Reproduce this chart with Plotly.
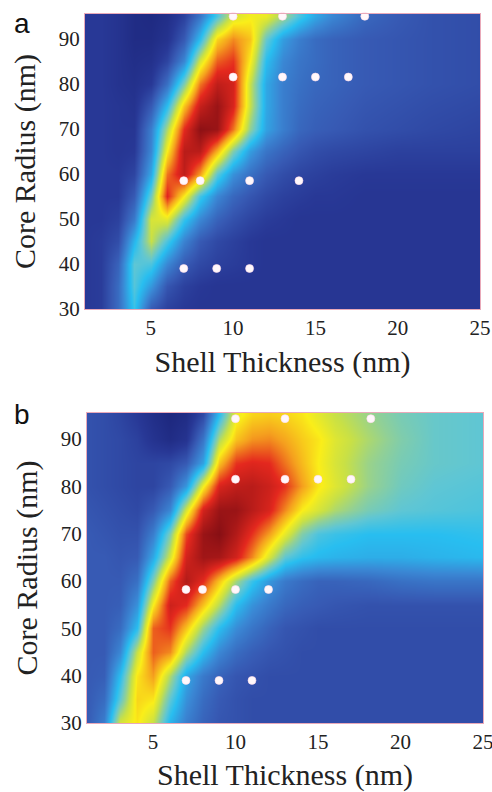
import plotly.graph_objects as go

# Grid: shell thickness (nm) columns, core radius (nm) rows
shell_x = [1, 2, 3, 4, 5, 6, 7, 8, 9, 10, 11, 12, 13, 14, 15, 16, 18, 20, 22, 25]
core_y = [30, 35, 40, 45, 50, 55, 60, 65, 70, 75, 80, 85, 90, 95]

# Panel a: normalised intensity, rows follow core_y
z_a = [
    [0.12, 0.13, 0.24, 0.42, 0.20, 0.14, 0.12, 0.11, 0.11, 0.11, 0.11, 0.11, 0.11, 0.11, 0.11, 0.11, 0.11, 0.11, 0.11, 0.11],
    [0.12, 0.13, 0.24, 0.45, 0.33, 0.19, 0.14, 0.12, 0.11, 0.11, 0.11, 0.11, 0.11, 0.11, 0.11, 0.11, 0.11, 0.11, 0.11, 0.11],
    [0.12, 0.13, 0.22, 0.46, 0.44, 0.30, 0.20, 0.16, 0.14, 0.13, 0.12, 0.11, 0.11, 0.11, 0.11, 0.11, 0.11, 0.11, 0.11, 0.11],
    [0.12, 0.13, 0.17, 0.38, 0.58, 0.44, 0.29, 0.20, 0.16, 0.14, 0.12, 0.11, 0.11, 0.11, 0.11, 0.11, 0.11, 0.11, 0.11, 0.11],
    [0.12, 0.12, 0.14, 0.27, 0.60, 0.62, 0.42, 0.30, 0.22, 0.18, 0.15, 0.13, 0.12, 0.11, 0.11, 0.11, 0.11, 0.11, 0.11, 0.11],
    [0.12, 0.12, 0.12, 0.20, 0.48, 0.86, 0.65, 0.43, 0.30, 0.23, 0.19, 0.16, 0.14, 0.13, 0.12, 0.12, 0.11, 0.11, 0.11, 0.11],
    [0.12, 0.12, 0.12, 0.15, 0.36, 0.78, 0.91, 0.74, 0.46, 0.32, 0.25, 0.20, 0.17, 0.15, 0.14, 0.13, 0.12, 0.12, 0.12, 0.12],
    [0.12, 0.12, 0.11, 0.12, 0.30, 0.65, 0.92, 0.92, 0.72, 0.50, 0.34, 0.26, 0.22, 0.19, 0.17, 0.16, 0.15, 0.14, 0.14, 0.14],
    [0.12, 0.12, 0.11, 0.11, 0.28, 0.55, 0.85, 0.99, 0.97, 0.78, 0.52, 0.35, 0.28, 0.23, 0.21, 0.20, 0.18, 0.17, 0.16, 0.15],
    [0.12, 0.12, 0.11, 0.10, 0.20, 0.40, 0.70, 0.90, 0.97, 0.87, 0.58, 0.36, 0.28, 0.24, 0.22, 0.21, 0.19, 0.18, 0.17, 0.16],
    [0.12, 0.12, 0.10, 0.09, 0.12, 0.25, 0.50, 0.78, 0.91, 0.88, 0.58, 0.36, 0.28, 0.25, 0.23, 0.22, 0.20, 0.19, 0.18, 0.17],
    [0.12, 0.12, 0.10, 0.08, 0.09, 0.15, 0.30, 0.60, 0.80, 0.84, 0.65, 0.40, 0.30, 0.26, 0.24, 0.22, 0.20, 0.19, 0.18, 0.17],
    [0.12, 0.12, 0.10, 0.07, 0.07, 0.10, 0.20, 0.40, 0.68, 0.76, 0.70, 0.47, 0.34, 0.28, 0.24, 0.22, 0.20, 0.19, 0.18, 0.17],
    [0.12, 0.12, 0.10, 0.07, 0.06, 0.08, 0.14, 0.26, 0.44, 0.60, 0.64, 0.63, 0.54, 0.44, 0.36, 0.30, 0.23, 0.20, 0.18, 0.17],
]

# Panel b
z_b = [
    [0.20, 0.28, 0.60, 0.66, 0.58, 0.38, 0.28, 0.22, 0.19, 0.18, 0.17, 0.17, 0.17, 0.17, 0.17, 0.17, 0.17, 0.17, 0.17, 0.17],
    [0.20, 0.24, 0.46, 0.68, 0.66, 0.46, 0.32, 0.24, 0.20, 0.18, 0.17, 0.17, 0.17, 0.17, 0.17, 0.17, 0.17, 0.17, 0.17, 0.17],
    [0.20, 0.21, 0.40, 0.66, 0.74, 0.55, 0.36, 0.27, 0.22, 0.19, 0.18, 0.17, 0.17, 0.17, 0.17, 0.17, 0.17, 0.17, 0.17, 0.17],
    [0.20, 0.20, 0.30, 0.58, 0.80, 0.76, 0.55, 0.40, 0.30, 0.24, 0.21, 0.19, 0.18, 0.17, 0.17, 0.17, 0.17, 0.17, 0.17, 0.17],
    [0.20, 0.20, 0.24, 0.40, 0.80, 0.84, 0.70, 0.53, 0.40, 0.31, 0.26, 0.22, 0.19, 0.18, 0.17, 0.17, 0.17, 0.17, 0.17, 0.17],
    [0.20, 0.20, 0.21, 0.32, 0.65, 0.89, 0.85, 0.70, 0.56, 0.40, 0.32, 0.27, 0.23, 0.21, 0.20, 0.19, 0.18, 0.18, 0.18, 0.18],
    [0.20, 0.20, 0.20, 0.25, 0.50, 0.80, 0.93, 0.85, 0.70, 0.54, 0.42, 0.33, 0.27, 0.24, 0.22, 0.22, 0.23, 0.25, 0.26, 0.26],
    [0.20, 0.20, 0.19, 0.20, 0.36, 0.60, 0.88, 0.96, 0.95, 0.88, 0.76, 0.60, 0.46, 0.41, 0.39, 0.38, 0.37, 0.37, 0.38, 0.39],
    [0.20, 0.19, 0.18, 0.18, 0.28, 0.50, 0.82, 0.97, 1.00, 0.93, 0.84, 0.74, 0.62, 0.50, 0.44, 0.42, 0.40, 0.40, 0.40, 0.41],
    [0.19, 0.18, 0.17, 0.16, 0.20, 0.30, 0.60, 0.88, 0.97, 0.97, 0.92, 0.87, 0.76, 0.65, 0.60, 0.55, 0.49, 0.46, 0.45, 0.44],
    [0.18, 0.17, 0.16, 0.15, 0.15, 0.20, 0.33, 0.64, 0.87, 0.91, 0.92, 0.89, 0.84, 0.74, 0.66, 0.61, 0.53, 0.48, 0.46, 0.45],
    [0.18, 0.17, 0.16, 0.15, 0.15, 0.16, 0.20, 0.35, 0.70, 0.84, 0.86, 0.85, 0.78, 0.71, 0.65, 0.60, 0.53, 0.49, 0.47, 0.46],
    [0.18, 0.17, 0.16, 0.14, 0.10, 0.07, 0.10, 0.26, 0.55, 0.70, 0.75, 0.76, 0.73, 0.69, 0.66, 0.61, 0.55, 0.50, 0.47, 0.46],
    [0.18, 0.17, 0.15, 0.12, 0.08, 0.05, 0.07, 0.16, 0.40, 0.63, 0.68, 0.69, 0.68, 0.66, 0.62, 0.58, 0.53, 0.49, 0.47, 0.46],
]

# Sample points (white dots)
dots_a_x = [10, 13, 18, 10, 13, 15, 17, 7, 8, 11, 14, 7, 9, 11]
dots_a_y = [95, 95, 95, 81.5, 81.5, 81.5, 81.5, 58.5, 58.5, 58.5, 58.5, 39, 39, 39]
dots_b_x = [10, 13, 18.2, 10, 13, 15, 17, 7, 8, 10, 12, 7, 9, 11]
dots_b_y = [94.3, 94.3, 94.3, 81.5, 81.5, 81.5, 81.5, 58.2, 58.2, 58.2, 58.2, 39, 39, 39]

x_ticks = [5, 10, 15, 20, 25]
y_ticks = [30, 40, 50, 60, 70, 80, 90]
panel_labels = ["a", "b"]

colorscale = [
    [0.00, "rgb(22,28,110)"],
    [0.12, "rgb(40,56,150)"],
    [0.20, "rgb(55,90,180)"],
    [0.30, "rgb(58,135,212)"],
    [0.40, "rgb(40,190,240)"],
    [0.46, "rgb(95,198,212)"],
    [0.52, "rgb(145,208,150)"],
    [0.58, "rgb(200,224,70)"],
    [0.65, "rgb(250,238,25)"],
    [0.74, "rgb(245,160,30)"],
    [0.85, "rgb(228,40,30)"],
    [1.00, "rgb(135,15,20)"],
]

fig = go.Figure()
for z, xa, ya in [(z_a, "x", "y"), (z_b, "x2", "y2")]:
    fig.add_trace(go.Heatmap(x=shell_x, y=core_y, z=z, zmin=0, zmax=1,
                             colorscale=colorscale, zsmooth="best",
                             showscale=False, xaxis=xa, yaxis=ya,
                             hoverinfo="skip"))
for dx, dy, xa, ya in [(dots_a_x, dots_a_y, "x", "y"), (dots_b_x, dots_b_y, "x2", "y2")]:
    fig.add_trace(go.Scatter(x=dx, y=dy, mode="markers", xaxis=xa, yaxis=ya,
                             marker=dict(color="#fff8fb", size=8,
                                         line=dict(width=1, color="rgba(255,220,235,0.6)")),
                             showlegend=False, hoverinfo="skip", cliponaxis=False))

serif = "Liberation Serif, Times New Roman, serif"
common_x = dict(range=[1, 25], tickvals=x_ticks, ticks="", showgrid=False,
                zeroline=False, showline=True, linecolor="#e9a9b9", linewidth=1,
                mirror=True, tickfont=dict(family=serif, size=21, color="#222"),
                ticklabeloverflow="allow",
                title=dict(text="Shell Thickness (nm)", font=dict(family=serif, size=30, color="#222"),
                           standoff=11), automargin=False)
common_y = dict(range=[30, 95.5], tickvals=y_ticks, ticks="", showgrid=False,
                zeroline=False, showline=True, linecolor="#e9a9b9", linewidth=1,
                mirror=True, tickfont=dict(family=serif, size=21, color="#222"),
                ticklabeloverflow="allow",
                title=dict(text="Core Radius (nm)", font=dict(family=serif, size=30, color="#222"),
                           standoff=14), automargin=False)

fig.update_layout(
    width=492, height=792, margin=dict(l=0, r=0, t=0, b=0),
    paper_bgcolor="white", plot_bgcolor="white", showlegend=False,
    xaxis=dict(domain=[85/492, 480/492], anchor="y", **common_x),
    yaxis=dict(domain=[1-309/792, 1-14/792], anchor="x", **common_y),
    xaxis2=dict(domain=[87/492, 483/492], anchor="y2", **common_x),
    yaxis2=dict(domain=[1-723/792, 1-413/792], anchor="x2", **common_y),
)

for lbl, yy in zip(panel_labels, [1-24/792, 1-414/792]):
    fig.add_annotation(text=lbl, x=22/492, y=yy, xref="paper", yref="paper",
                       showarrow=False, xanchor="center", yanchor="middle",
                       font=dict(family="Liberation Sans, Arial, sans-serif", size=28, color="#111"))

fig.write_html("out.html", config={"displayModeBar": False},
               post_script="document.body.style.margin='0px';document.body.style.overflow='hidden';")
